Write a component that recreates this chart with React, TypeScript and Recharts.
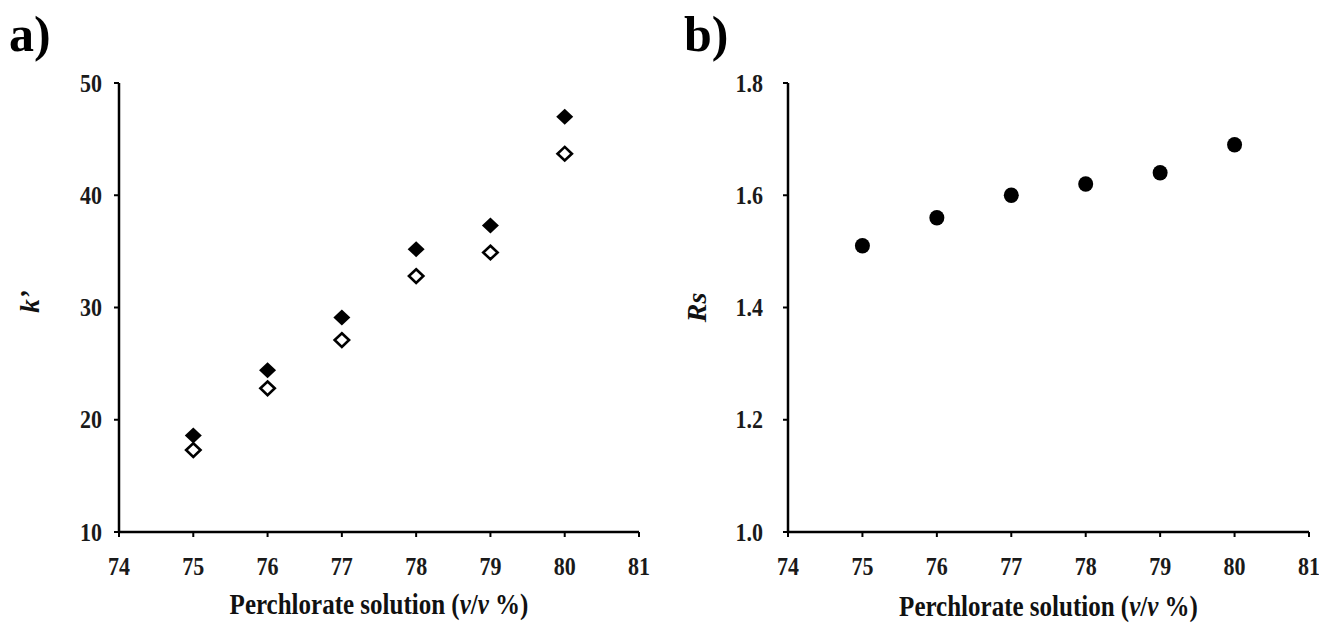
import React from 'react';
import { ScatterChart, Scatter, XAxis, YAxis, Label } from 'recharts';

const perchlorate = [75, 76, 77, 78, 79, 80];
const kPrimeFilled = [18.6, 24.4, 29.1, 35.2, 37.3, 47.0];
const kPrimeOpen = [17.3, 22.8, 27.1, 32.8, 34.9, 43.7];
const resolution = [1.51, 1.56, 1.6, 1.62, 1.64, 1.69];

const xTicks = [74, 75, 76, 77, 78, 79, 80, 81];
const kTicks = [10, 20, 30, 40, 50];
const rsTicks = [1.0, 1.2, 1.4, 1.6, 1.8];

const SERIF = '"Liberation Serif", "Times New Roman", serif';
const INK = '#111';
// the original figure is a bit stretched vertically
const STRETCH = 1.15;

const toPoints = (ys: number[]) => perchlorate.map((x, i) => ({ x, y: ys[i] }));

const FilledDiamond = (props: any) => {
  const { cx, cy } = props;
  const rx = 8.5;
  const ry = 8;
  return (
    <polygon
      points={`${cx},${cy - ry} ${cx + rx},${cy} ${cx},${cy + ry} ${cx - rx},${cy}`}
      fill="#000"
    />
  );
};

const OpenDiamond = (props: any) => {
  const { cx, cy } = props;
  const rx = 7.2;
  const ry = 6.8;
  return (
    <polygon
      points={`${cx},${cy - ry} ${cx + rx},${cy} ${cx},${cy + ry} ${cx - rx},${cy}`}
      fill="#fff"
      stroke="#000"
      strokeWidth={2.6}
    />
  );
};

const Dot = (props: any) => {
  const { cx, cy } = props;
  return <ellipse cx={cx} cy={cy} rx={7.5} ry={7.8} fill="#000" />;
};

const makeTick = (side: 'x' | 'y', digits = 0) => (props: any) => {
  const { x, y, payload } = props;
  const v = payload.value as number;
  const txt = digits ? v.toFixed(digits) : String(v);
  return (
    <g transform={`translate(${x},${y}) scale(1,${STRETCH})`}>
      <text
        x={0}
        y={0}
        dy={side === 'x' ? '0.71em' : '0.34em'}
        textAnchor={side === 'x' ? 'middle' : 'end'}
        fill="#1a1a1a"
        style={{ fontFamily: SERIF, fontWeight: 700, fontSize: 22 }}
      >
        {txt}
      </text>
    </g>
  );
};

const xTitle = (dy: number) => (props: any) => {
  const { x, y, width } = props.viewBox;
  const cx = x + width / 2;
  const cy = y + dy;
  return (
    <g transform={`translate(${cx},${cy}) scale(1,${STRETCH})`}>
      <text
        x={0}
        y={0}
        textAnchor="middle"
        fill={INK}
        style={{ fontFamily: SERIF, fontWeight: 700, fontSize: 25 }}
      >
        Perchlorate solution (<tspan fontStyle="italic">v</tspan>/<tspan fontStyle="italic">v</tspan> %)
      </text>
    </g>
  );
};

const yTitle = (text: string, cx: number, shift: number, size: number) => (props: any) => {
  const { y, height } = props.viewBox;
  const cy = y + height / 2 + shift;
  return (
    <text
      x={cx}
      y={cy}
      transform={`rotate(-90 ${cx} ${cy})`}
      textAnchor="middle"
      dominantBaseline="central"
      fill={INK}
      style={{ fontFamily: SERIF, fontWeight: 700, fontStyle: 'italic', fontSize: size }}
    >
      {text}
    </text>
  );
};

const axisLine = { stroke: '#000', strokeWidth: 2.5 };
const tickLine = { stroke: '#000', strokeWidth: 2 };

const panelTitle: React.CSSProperties = {
  position: 'absolute',
  top: 5,
  fontFamily: SERIF,
  fontWeight: 700,
  fontSize: 50,
  lineHeight: '58px',
  color: '#000',
};

export default function App() {
  return (
    <div style={{ position: 'absolute', left: 0, top: 0, width: 1319, height: 626, background: '#fff' }}>
      <div style={{ ...panelTitle, left: 9 }}>a)</div>
      <div style={{ ...panelTitle, left: 684 }}>b)</div>

      <div style={{ position: 'absolute', left: 0, top: 0 }}>
        <ScatterChart width={660} height={626} margin={{ top: 83, right: 21, bottom: 54, left: 59 }}>
          <XAxis
            type="number"
            dataKey="x"
            domain={[74, 81]}
            ticks={xTicks}
            interval={0}
            height={40}
            axisLine={axisLine}
            tickLine={tickLine}
            tickSize={5}
            tickMargin={20}
            tick={makeTick('x')}
          >
            <Label content={xTitle(82)} />
          </XAxis>
          <YAxis
            type="number"
            dataKey="y"
            domain={[10, 50]}
            ticks={kTicks}
            interval={0}
            width={60}
            axisLine={axisLine}
            tickLine={tickLine}
            tickSize={5}
            tickMargin={12}
            tick={makeTick('y')}
          >
            <Label content={yTitle('k\u2019', 30, -6, 27)} />
          </YAxis>
          <Scatter data={toPoints(kPrimeFilled)} shape={FilledDiamond} isAnimationActive={false} />
          <Scatter data={toPoints(kPrimeOpen)} shape={OpenDiamond} isAnimationActive={false} />
        </ScatterChart>
      </div>

      <div style={{ position: 'absolute', left: 660, top: 0 }}>
        <ScatterChart width={659} height={626} margin={{ top: 83, right: 10, bottom: 54, left: 68 }}>
          <XAxis
            type="number"
            dataKey="x"
            domain={[74, 81]}
            ticks={xTicks}
            interval={0}
            height={40}
            axisLine={axisLine}
            tickLine={tickLine}
            tickSize={5}
            tickMargin={20}
            tick={makeTick('x')}
          >
            <Label content={xTitle(84)} />
          </XAxis>
          <YAxis
            type="number"
            dataKey="y"
            domain={[1.0, 1.8]}
            ticks={rsTicks}
            interval={0}
            width={60}
            axisLine={axisLine}
            tickLine={tickLine}
            tickSize={5}
            tickMargin={20}
            tick={makeTick('y', 1)}
          >
            <Label content={yTitle('Rs', 36, 0, 28)} />
          </YAxis>
          <Scatter data={toPoints(resolution)} shape={Dot} isAnimationActive={false} />
        </ScatterChart>
      </div>
    </div>
  );
}
